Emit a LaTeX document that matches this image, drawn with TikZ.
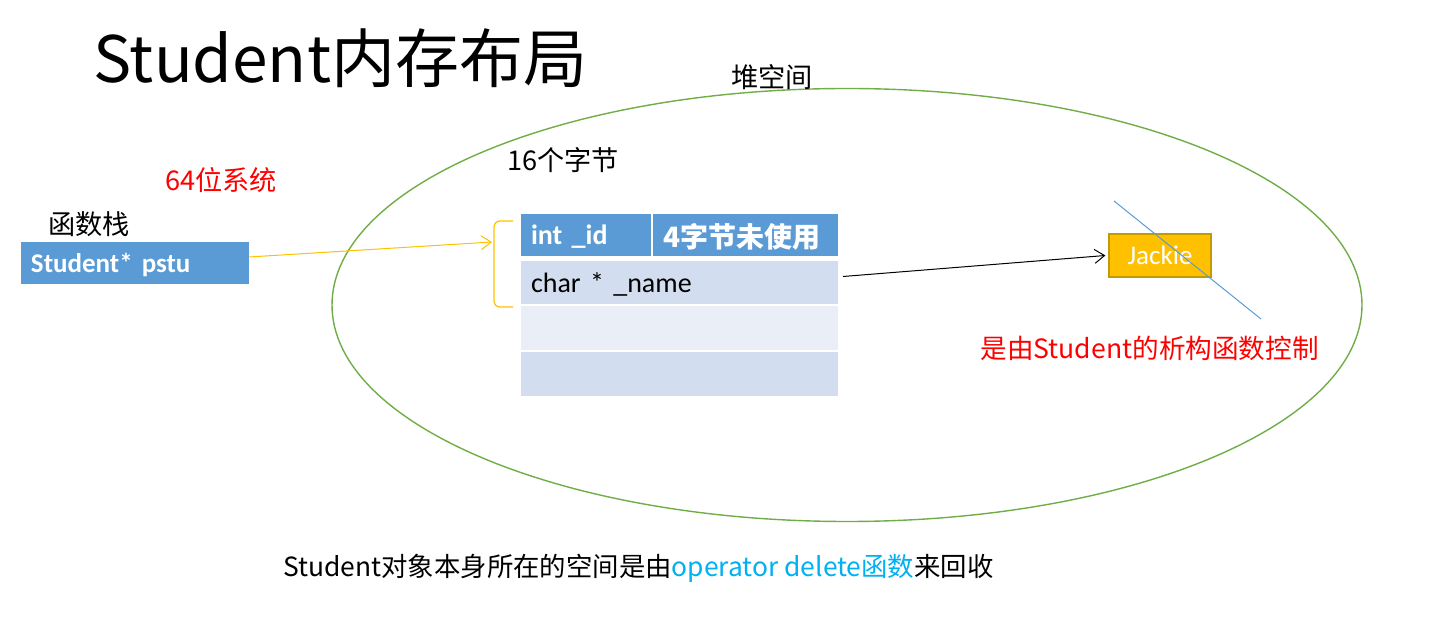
\documentclass[tikz,border=0pt]{standalone}
\usepackage{fontspec}
\setmainfont{Carlito}
\newfontfamily\cjk{Noto Sans CJK SC}
\usepackage{tikz}
\usetikzlibrary{shapes.geometric,arrows.meta,positioning}
\definecolor{cBlue}{HTML}{5B9BD5}
\definecolor{cRowA}{HTML}{D2DEEF}
\definecolor{cRowB}{HTML}{EAEFF7}
\definecolor{cHeap}{HTML}{70AD47}
\definecolor{cGold}{HTML}{FFC000}
\definecolor{cGoldDk}{HTML}{C49A00}
\definecolor{cNote}{HTML}{FF0000}
\definecolor{cCyan}{HTML}{00B0F0}
\newcommand{\fsz}[1]{\fontsize{#1pt}{#1pt}\selectfont}
\newcommand{\zh}[1]{{\cjk #1}}

\begin{document}
\begin{tikzpicture}[
    x=0.5pt, y=-0.5pt,
    label/.style={anchor=west, inner sep=0pt, font=\cjk\fsz{13.6}},
    cell/.style={anchor=north west, inner xsep=5pt, inner ysep=0pt, outer sep=0pt,
                 minimum height=21.5pt, text depth=0pt, align=left, font=\fsz{14}},
    hcell/.style={cell, fill=cBlue, text=white, font=\bfseries\fsz{14}},
    ptr/.style={-{Straight Barb[length=5pt,width=7pt]}, line width=0.5pt},
  ]
  \useasboundingbox (0,0) rectangle (1434,635);
  % title and heap
  \node[label, font=\cjk\fsz{32}] (title) at (93,58) {Student内存布局};
  \node[draw=cHeap, line width=0.7pt, ellipse, minimum width=515pt, minimum height=216.5pt,
        inner sep=0pt] (heap) at (847,305) {};
  \node[label] (heaplbl) at (731,77) {堆空间};
  \node[label] (size) at (507,160) {16个字节};
  \node[label, text=cNote] (arch) at (165,180) {64位系统};
  % stack side
  \node[label] (stack) at (48,224) {函数栈};
  \node[cell, fill=cBlue, text=white, font=\bfseries\fsz{13.5}, minimum width=114pt,
        text width=104pt, minimum height=21pt] (pstu) at (21,242) {Student* pstu};
  % object layout
  \node[hcell, minimum width=65pt, text width=55pt, minimum height=21pt] (idcell) at (521,214) {int \_id};
  \node[hcell, minimum width=92.5pt, text width=82.5pt, minimum height=21pt, anchor=north west]
    (padcell) at ([xshift=1pt]idcell.north east) {\zh{4字节未使用}};
  \node[cell, fill=cRowA, minimum width=158.5pt, text width=148.5pt] (namecell)
    at ([yshift=-2.5pt]idcell.south west) {char * \_name};
  \node[cell, fill=cRowB, minimum width=158.5pt, minimum height=22pt] (row3)
    at ([yshift=-1pt]namecell.south west) {};
  \node[cell, fill=cRowA, minimum width=158.5pt, minimum height=22pt] (row4)
    at ([yshift=-1pt]row3.south west) {};
  \draw[cGold, line width=0.6pt, rounded corners=3pt] (513,221) -- (494,221) -- (494,307) -- (513,307);
  \coordinate (bracetip) at (492,242);
  % name string
  \node[fill=cGold, draw=cGoldDk, line width=0.6pt, text=white, font=\fsz{13.5},
        minimum width=51pt, minimum height=21.5pt, inner sep=0pt] (jackie) at (1160,255.5) {Jackie};
  \coordinate (crossA) at (1114,201);
  \coordinate (crossB) at (1261,319);
  \draw[cBlue, line width=0.5pt] (crossA) -- (crossB);
  \node[label, text=cNote, font=\cjk\fsz{13.3}] (dtor) at (980,348) {是由Student的析构函数控制};
  \node[label, font=\cjk\fsz{13.2}] (free) at (283,568)
    {Student对象本身所在的空间是由\textcolor{cCyan}{operator delete函数}来回收};
  % pointers
  \draw[ptr, draw=cGold] ([yshift=3pt]pstu.east) -- (bracetip);
  \draw[ptr, draw=black] ([xshift=2.5pt,yshift=3pt]namecell.east) -- ([xshift=-1.5pt]jackie.west);
\end{tikzpicture}
\end{document}
